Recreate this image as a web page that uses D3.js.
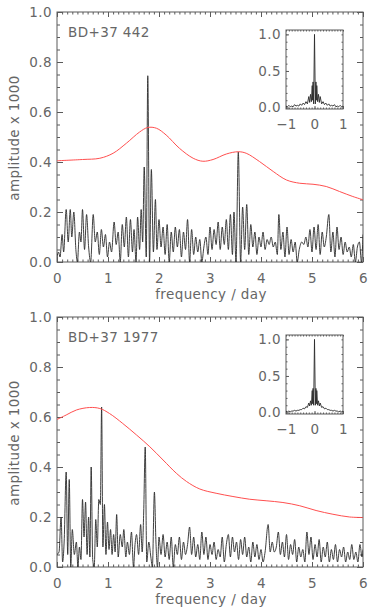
<!DOCTYPE html>
<html><head><meta charset="utf-8">
<script src="https://cdn.jsdelivr.net/npm/d3@7"></script>
<style>
html,body{margin:0;padding:0;background:#fff;}
svg{display:block;}
text{font-family:"DejaVu Sans",sans-serif;fill:#666;letter-spacing:0.4px;}
</style></head>
<body>
<svg id="c" width="382" height="611"></svg>
<script>
// ---------- DATA ----------
const panelNames = ["BD+37 442", "BD+37 1977"];
const xTickLabels = [0, 1, 2, 3, 4, 5, 6];
const yTickLabels = [0.0, 0.2, 0.4, 0.6, 0.8, 1.0];
const insetXTicks = [-1, 0, 1];
const insetYTicks = [0.0, 0.5, 1.0];

// amplitude spectrum, BD+37 442 : [frequency, amplitude x 1000]
const spectrumTop = [[0,0.02],[0.03,0.04],[0.06,0.02],[0.10,0.11],[0.13,0.04],[0.18,0.21],[0.22,0.08],[0.26,0.21],[0.29,0.10],[0.33,0.20],[0.37,0.05],[0.40,0.00],[0.44,0.12],[0.47,0.08],[0.50,0.21],[0.54,0.05],[0.58,0.19],[0.62,0.06],[0.66,0.0],[0.71,0.19],[0.75,0.08],[0.79,0.12],[0.83,0.03],[0.87,0.13],[0.91,0.06],[0.95,0.11],[0.99,0.02],[1.03,0.08],[1.07,0.04],[1.12,0.16],[1.16,0.07],[1.20,0.12],[1.24,0.00],[1.28,0.15],[1.32,0.06],[1.36,0.18],[1.40,0.02],[1.44,0.17],[1.48,0.04],[1.51,0.13],[1.55,0.00],[1.58,0.18],[1.62,0.05],[1.65,0.21],[1.68,0.08],[1.71,0.38],[1.75,0.02],[1.78,0.745],[1.815,0.00],[1.85,0.37],[1.89,0.04],[1.93,0.25],[1.96,0.05],[2.0,0.17],[2.04,0.06],[2.08,0.14],[2.12,0.03],[2.16,0.15],[2.2,0.0],[2.24,0.12],[2.28,0.04],[2.32,0.14],[2.36,0.06],[2.4,0.13],[2.44,0.02],[2.48,0.12],[2.52,0.05],[2.56,0.17],[2.6,0.0],[2.64,0.13],[2.68,0.03],[2.72,0.10],[2.76,0.04],[2.8,0.09],[2.84,0.0],[2.88,0.06],[2.92,0.10],[2.96,0.03],[3.0,0.14],[3.04,0.05],[3.08,0.13],[3.12,0.07],[3.16,0.16],[3.2,0.05],[3.24,0.14],[3.28,0.07],[3.32,0.17],[3.36,0.05],[3.40,0.19],[3.44,0.03],[3.47,0.20],[3.51,0.00],[3.555,0.44],[3.60,0.00],[3.64,0.22],[3.68,0.05],[3.72,0.23],[3.76,0.03],[3.80,0.15],[3.84,0.06],[3.88,0.12],[3.92,0.03],[3.96,0.10],[4.0,0.06],[4.04,0.12],[4.08,0.05],[4.12,0.09],[4.16,0.07],[4.20,0.10],[4.24,0.06],[4.28,0.08],[4.32,0.03],[4.35,0.19],[4.39,0.05],[4.43,0.12],[4.47,0.02],[4.51,0.14],[4.55,0.03],[4.59,0.09],[4.63,0.04],[4.67,0.08],[4.71,0.0],[4.75,0.05],[4.8,0.08],[4.84,0.07],[4.88,0.10],[4.92,0.06],[4.96,0.13],[5.0,0.04],[5.04,0.14],[5.08,0.05],[5.12,0.15],[5.16,0.03],[5.2,0.12],[5.24,0.06],[5.28,0.10],[5.33,0.19],[5.37,0.04],[5.41,0.12],[5.45,0.02],[5.49,0.14],[5.53,0.05],[5.57,0.10],[5.61,0.03],[5.65,0.08],[5.69,0.04],[5.73,0.06],[5.77,0.02],[5.81,0.07],[5.85,0.00],[5.89,0.06],[5.93,0.08],[5.97,0.0],[6.0,0.11]];

// significance level, BD+37 442
const thresholdTop = [[0,0.405],[0.5,0.41],[0.84,0.415],[1.1,0.435],[1.36,0.475],[1.62,0.52],[1.78,0.538],[1.95,0.535],[2.14,0.508],[2.4,0.455],[2.67,0.415],[2.86,0.403],[3.06,0.41],[3.32,0.432],[3.55,0.441],[3.71,0.435],[3.97,0.402],[4.24,0.362],[4.5,0.328],[4.76,0.315],[5.02,0.311],[5.28,0.302],[5.54,0.282],[5.8,0.262],[6.0,0.249]];

// amplitude spectrum, BD+37 1977
const spectrumBottom = [[0,0.05],[0.04,0.06],[0.08,0.20],[0.11,0.02],[0.14,0.10],[0.18,0.38],[0.21,0.05],[0.24,0.35],[0.27,0.00],[0.30,0.15],[0.34,0.05],[0.38,0.10],[0.41,0.0],[0.44,0.08],[0.47,0.03],[0.50,0.27],[0.53,0.12],[0.56,0.26],[0.59,0.05],[0.62,0.20],[0.645,0.04],[0.67,0.40],[0.70,0.03],[0.73,0.00],[0.76,0.19],[0.79,0.08],[0.82,0.27],[0.85,0.25],[0.875,0.64],[0.90,0.08],[0.93,0.25],[0.96,0.05],[0.99,0.18],[1.02,0.07],[1.05,0.15],[1.08,0.05],[1.11,0.13],[1.14,0.06],[1.17,0.21],[1.20,0.04],[1.24,0.13],[1.28,0.08],[1.31,0.15],[1.35,0.04],[1.38,0.10],[1.42,0.05],[1.46,0.14],[1.50,0.0],[1.53,0.09],[1.56,0.13],[1.60,0.05],[1.64,0.17],[1.67,0.06],[1.70,0.22],[1.73,0.48],[1.76,0.02],[1.80,0.10],[1.84,0.04],[1.87,0.0],[1.91,0.30],[1.94,0.10],[1.97,0.0],[2.0,0.12],[2.04,0.05],[2.08,0.13],[2.12,0.04],[2.16,0.10],[2.20,0.03],[2.24,0.12],[2.28,0.0],[2.32,0.09],[2.36,0.05],[2.40,0.12],[2.44,0.03],[2.48,0.10],[2.52,0.05],[2.56,0.09],[2.60,0.16],[2.64,0.05],[2.68,0.12],[2.72,0.04],[2.76,0.09],[2.80,0.03],[2.84,0.14],[2.88,0.05],[2.92,0.12],[2.96,0.03],[3.0,0.09],[3.04,0.05],[3.08,0.10],[3.12,0.03],[3.16,0.07],[3.20,0.04],[3.24,0.12],[3.28,0.02],[3.32,0.09],[3.36,0.13],[3.40,0.04],[3.44,0.12],[3.48,0.06],[3.52,0.10],[3.56,0.03],[3.60,0.11],[3.64,0.05],[3.68,0.12],[3.72,0.04],[3.76,0.08],[3.80,0.02],[3.84,0.10],[3.88,0.04],[3.92,0.09],[3.96,0.03],[4.0,0.07],[4.04,0.02],[4.08,0.06],[4.14,0.17],[4.18,0.06],[4.22,0.10],[4.26,0.06],[4.30,0.08],[4.34,0.14],[4.38,0.05],[4.42,0.10],[4.46,0.04],[4.50,0.13],[4.54,0.03],[4.58,0.09],[4.62,0.05],[4.66,0.11],[4.70,0.02],[4.74,0.08],[4.78,0.04],[4.82,0.07],[4.86,0.02],[4.90,0.14],[4.94,0.05],[4.98,0.12],[5.02,0.03],[5.06,0.09],[5.10,0.04],[5.14,0.11],[5.18,0.02],[5.22,0.08],[5.26,0.04],[5.30,0.10],[5.34,0.02],[5.38,0.07],[5.42,0.03],[5.46,0.09],[5.50,0.02],[5.54,0.07],[5.58,0.04],[5.62,0.08],[5.66,0.02],[5.70,0.06],[5.74,0.03],[5.78,0.09],[5.82,0.03],[5.86,0.06],[5.90,0.02],[5.94,0.09],[5.98,0.04],[6.0,0.07]];

// significance level, BD+37 1977
const thresholdBottom = [[0,0.59],[0.18,0.608],[0.38,0.628],[0.64,0.638],[0.84,0.634],[1.03,0.614],[1.29,0.574],[1.56,0.528],[1.82,0.481],[2.08,0.428],[2.34,0.375],[2.54,0.342],[2.8,0.312],[3.12,0.295],[3.45,0.282],[3.78,0.271],[4.1,0.265],[4.43,0.258],[4.76,0.245],[5.08,0.226],[5.41,0.211],[5.74,0.2],[6.0,0.198]];

// spectral window (insets)
const windowTop = [[-1.0,0.02],[-0.95,0.01],[-0.9,0.03],[-0.85,0.01],[-0.8,0.02],[-0.75,0.01],[-0.7,0.04],[-0.65,0.02],[-0.6,0.03],[-0.55,0.02],[-0.5,0.05],[-0.45,0.03],[-0.4,0.06],[-0.35,0.04],[-0.3,0.08],[-0.25,0.05],[-0.2,0.15],[-0.17,0.07],[-0.14,0.18],[-0.11,0.08],[-0.08,0.30],[-0.065,0.10],[-0.05,0.35],[-0.03,0.05],[0,1.0],[0.03,0.05],[0.05,0.35],[0.065,0.10],[0.08,0.30],[0.11,0.08],[0.14,0.18],[0.17,0.07],[0.2,0.15],[0.25,0.05],[0.3,0.08],[0.35,0.04],[0.4,0.06],[0.45,0.03],[0.5,0.05],[0.55,0.02],[0.6,0.03],[0.65,0.02],[0.7,0.04],[0.75,0.01],[0.8,0.02],[0.85,0.01],[0.9,0.03],[0.95,0.01],[1.0,0.02]];
const windowBottom = [[-1.0,0.02],[-0.95,0.01],[-0.9,0.02],[-0.85,0.01],[-0.8,0.02],[-0.75,0.02],[-0.7,0.03],[-0.65,0.02],[-0.6,0.03],[-0.55,0.03],[-0.5,0.04],[-0.45,0.04],[-0.4,0.06],[-0.35,0.05],[-0.3,0.08],[-0.25,0.07],[-0.2,0.13],[-0.17,0.09],[-0.14,0.16],[-0.11,0.10],[-0.08,0.30],[-0.065,0.12],[-0.05,0.33],[-0.03,0.10],[0,1.0],[0.03,0.10],[0.05,0.33],[0.065,0.12],[0.08,0.30],[0.11,0.10],[0.14,0.16],[0.17,0.09],[0.2,0.13],[0.25,0.07],[0.3,0.08],[0.35,0.05],[0.4,0.06],[0.45,0.04],[0.5,0.04],[0.55,0.03],[0.6,0.03],[0.65,0.02],[0.7,0.03],[0.75,0.02],[0.8,0.02],[0.85,0.01],[0.9,0.02],[0.95,0.01],[1.0,0.02]];

const panels = [
  {name: panelNames[0], spec: spectrumTop, thr: thresholdTop, win: windowTop},
  {name: panelNames[1], spec: spectrumBottom, thr: thresholdBottom, win: windowBottom}
];

// ---------- DRAW ----------
const svg = d3.select("#c");
const frameCol = "#5a5a5a";
const L = 57, R = 363, H = 250;
const tops = [12, 317];

panels.forEach((p, i) => {
  const T = tops[i], B = T + H;
  const g = svg.append("g");
  const x = d3.scaleLinear().domain([0, 6]).range([L, R]);
  const y = d3.scaleLinear().domain([0, 1]).range([B, T]);

  const clipId = "clip" + i;
  g.append("clipPath").attr("id", clipId).append("rect")
    .attr("x", L).attr("y", T).attr("width", R - L).attr("height", H);

  const styleAxis = sel => { sel.select(".domain").remove(); sel.selectAll("line").attr("stroke", frameCol); sel.selectAll("text").attr("fill", null).style("font-size", "13.5px").attr("font-family", null); };
  const xMinor = d3.range(0, 6.0001, 0.1);
  const yMinor = d3.range(0, 1.0001, 0.05);

  g.append("g").attr("transform", `translate(0,${B})`)
    .call(d3.axisBottom(x).tickValues(xMinor).tickSize(-2.5).tickFormat("")).call(styleAxis);
  g.append("g").attr("transform", `translate(0,${B})`)
    .call(d3.axisBottom(x).tickValues(xTickLabels).tickSize(-5).tickPadding(11).tickFormat(d3.format("d"))).call(styleAxis);
  g.append("g").attr("transform", `translate(0,${T})`)
    .call(d3.axisTop(x).tickValues(xMinor).tickSize(-2.5).tickFormat("")).call(styleAxis);
  g.append("g").attr("transform", `translate(0,${T})`)
    .call(d3.axisTop(x).tickValues(xTickLabels).tickSize(-5).tickFormat("")).call(styleAxis);

  g.append("g").attr("transform", `translate(${L},0)`)
    .call(d3.axisLeft(y).tickValues(yMinor).tickSize(-3).tickFormat("")).call(styleAxis);
  g.append("g").attr("transform", `translate(${L},0)`)
    .call(d3.axisLeft(y).tickValues(yTickLabels).tickSize(-6).tickPadding(5).tickFormat(d3.format(".1f"))).call(styleAxis);
  g.append("g").attr("transform", `translate(${R},0)`)
    .call(d3.axisRight(y).tickValues(yMinor).tickSize(-3).tickFormat("")).call(styleAxis);
  g.append("g").attr("transform", `translate(${R},0)`)
    .call(d3.axisRight(y).tickValues(yTickLabels).tickSize(-6).tickFormat("")).call(styleAxis);

  g.append("rect").attr("x", L).attr("y", T).attr("width", R - L).attr("height", H)
    .attr("fill", "none").attr("stroke", frameCol).attr("stroke-width", 1);

  const wiggle = d3.line().x(d => x(d[0])).y(d => y(d[1])).curve(d3.curveMonotoneX);
  const smooth = d3.line().x(d => x(d[0])).y(d => y(d[1])).curve(d3.curveCatmullRom.alpha(0.5));
  g.append("path").datum(p.spec).attr("d", wiggle).attr("fill", "none")
    .attr("stroke", "#2a2a2a").attr("stroke-width", 0.9).attr("clip-path", `url(#${clipId})`);
  g.append("path").datum(p.thr).attr("d", smooth).attr("fill", "none")
    .attr("stroke", "#ff4f4f").attr("stroke-width", 1).attr("clip-path", `url(#${clipId})`);

  g.append("text").attr("x", 68).attr("y", T + 25).style("font-size", "13.5px").text(p.name);

  g.append("text").attr("x", (L + R) / 2 + 1).attr("y", B + 37).attr("text-anchor", "middle")
    .style("font-size", "13.5px").text("frequency / day");
  g.append("text").attr("transform", `translate(19,${T + 126}) rotate(-90)`).attr("text-anchor", "middle")
    .style("font-size", "13.5px").text("amplitude x 1000");

  // inset
  const iL = 286, iR = 343, iT = T + 18, iB = T + 97;
  const ix = d3.scaleLinear().domain([-1, 1]).range([iL, iR]);
  const iy = d3.scaleLinear().domain([-0.02, 1.06]).range([iB, iT]);
  const ig = g.append("g");
  const ixMinor = d3.range(-1, 1.0001, 0.1);
  const iyMinor = d3.range(0, 1.0001, 0.1);
  ig.append("g").attr("transform", `translate(0,${iB})`)
    .call(d3.axisBottom(ix).tickValues(ixMinor).tickSize(-1.5).tickFormat("")).call(styleAxis);
  ig.append("g").attr("transform", `translate(0,${iB})`)
    .call(d3.axisBottom(ix).tickValues(insetXTicks).tickSize(-3).tickPadding(10).tickFormat(d => d < 0 ? "\u2212" + Math.abs(d) : d)).call(styleAxis);
  ig.append("g").attr("transform", `translate(0,${iT})`)
    .call(d3.axisTop(ix).tickValues(ixMinor).tickSize(-1.5).tickFormat("")).call(styleAxis);
  ig.append("g").attr("transform", `translate(${iL},0)`)
    .call(d3.axisLeft(iy).tickValues(iyMinor).tickSize(-1.5).tickFormat("")).call(styleAxis);
  ig.append("g").attr("transform", `translate(${iL},0)`)
    .call(d3.axisLeft(iy).tickValues(insetYTicks).tickSize(-3).tickPadding(5).tickFormat(d3.format(".1f"))).call(styleAxis);
  ig.append("g").attr("transform", `translate(${iR},0)`)
    .call(d3.axisRight(iy).tickValues(iyMinor).tickSize(-1.5).tickFormat("")).call(styleAxis);
  ig.append("rect").attr("x", iL).attr("y", iT).attr("width", iR - iL).attr("height", iB - iT)
    .attr("fill", "none").attr("stroke", frameCol);
  const iline = d3.line().x(d => ix(d[0])).y(d => iy(d[1]));
  ig.append("path").datum(p.win).attr("d", iline).attr("fill", "none")
    .attr("stroke", "#2a2a2a").attr("stroke-width", 0.9);
});
</script>
</body></html>
